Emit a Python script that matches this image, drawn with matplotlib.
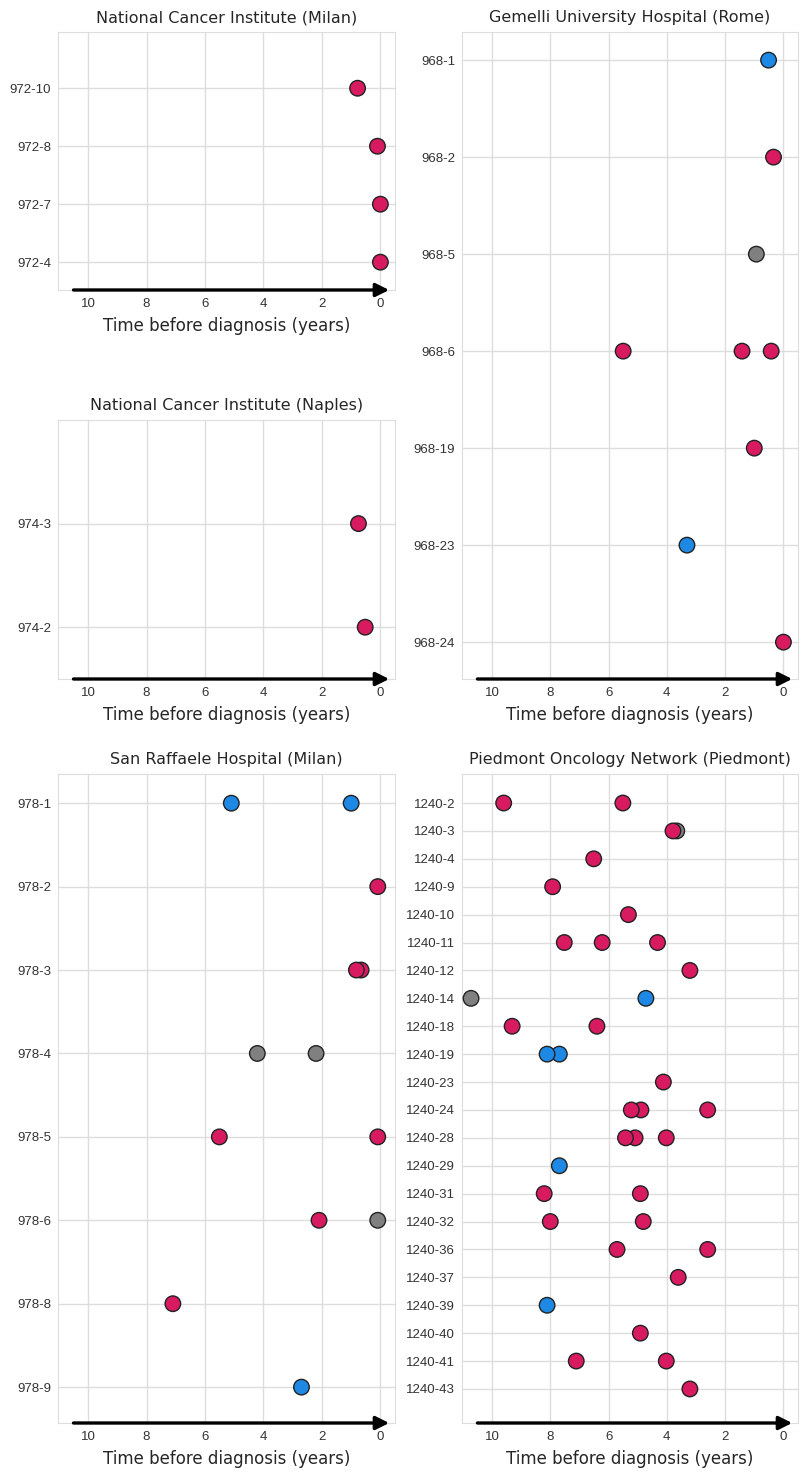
import numpy as np
import matplotlib.pyplot as plt
import seaborn as sns

sns.set_style("whitegrid")
plt.rcParams['font.family'] = ['DejaVu Sans']

# sample points: sample id, years before diagnosis, sample kind (r / b / g)
milan_sample = ['972-10', '972-8', '972-7', '972-4']
milan_time = [0.78, 0.10, 0.0, 0.0]
milan_kind = ['r', 'r', 'r', 'r']

naples_sample = ['974-3', '974-2']
naples_time = [0.75, 0.52]
naples_kind = ['r', 'r']

rome_sample = ['968-1', '968-2', '968-5', '968-6', '968-6', '968-6',
               '968-19', '968-23', '968-24']
rome_time = [0.51, 0.34, 0.93, 5.50, 1.42, 0.42, 1.00, 3.31, 0.0]
rome_kind = ['b', 'r', 'g', 'r', 'r', 'r', 'r', 'b', 'r']

raffaele_sample = ['978-1', '978-1', '978-2', '978-3', '978-3', '978-4', '978-4',
                   '978-5', '978-5', '978-6', '978-6', '978-8', '978-9']
raffaele_time = [5.10, 1.00, 0.09, 0.82, 0.66, 4.21, 2.20,
                 5.51, 0.09, 2.10, 0.09, 7.10, 2.70]
raffaele_kind = ['b', 'b', 'r', 'r', 'r', 'g', 'g',
                 'r', 'r', 'r', 'g', 'r', 'b']

piedmont_sample = ['1240-2', '1240-2', '1240-3', '1240-3', '1240-4', '1240-9',
                   '1240-10', '1240-11', '1240-11', '1240-11', '1240-12',
                   '1240-14', '1240-14', '1240-18', '1240-18', '1240-19', '1240-19',
                   '1240-23', '1240-24', '1240-24', '1240-24',
                   '1240-28', '1240-28', '1240-28', '1240-29',
                   '1240-31', '1240-31', '1240-32', '1240-32',
                   '1240-36', '1240-36', '1240-37', '1240-39', '1240-40',
                   '1240-41', '1240-41', '1240-43']
piedmont_time = [9.60, 5.51, 3.79, 3.66, 6.51, 7.92,
                 5.32, 7.52, 6.22, 4.32, 3.21,
                 10.72, 4.72, 9.31, 6.40, 8.11, 7.69,
                 4.12, 5.22, 4.89, 2.60,
                 5.42, 5.09, 4.02, 7.69,
                 8.21, 4.91, 8.00, 4.81,
                 5.71, 2.60, 3.61, 8.11, 4.91,
                 7.11, 4.02, 3.21]
piedmont_kind = ['r', 'r', 'r', 'g', 'r', 'r',
                 'r', 'r', 'r', 'r', 'r',
                 'g', 'b', 'r', 'r', 'b', 'b',
                 'r', 'r', 'r', 'r',
                 'r', 'r', 'r', 'b',
                 'r', 'r', 'r', 'r',
                 'r', 'r', 'r', 'b', 'r',
                 'r', 'r', 'r']

colors = {'r': '#D81B60', 'b': '#1E88E5', 'g': '#808080'}

W, H = 803, 1473
fig = plt.figure(figsize=(W / 100, H / 100), dpi=100)


def panel(box, title, sample, time, kind, pad):
    x0, y0, x1, y1 = box
    ax = fig.add_axes([x0 / W, 1 - y1 / H, (x1 - x0) / W, (y1 - y0) / H])
    rows = list(dict.fromkeys(sample))
    ypos = np.array([rows.index(s) for s in sample])
    t = np.array(time)
    c = [colors[k] for k in kind]
    order = np.argsort(t, kind='stable')
    ax.scatter(t[order], ypos[order], s=125, c=[c[i] for i in order],
               edgecolors='#222222', linewidths=1, zorder=3)
    ax.set_yticks(range(len(rows)))
    ax.set_yticklabels(rows, family=['Liberation Sans'], fontsize=9.5, color='#333333')
    ax.set_ylim(len(rows) - 1 + pad[1], -pad[0])
    ax.set_xlim(11.03, -0.5)
    ax.set_xticks([10, 8, 6, 4, 2, 0])
    ax.set_xticklabels(['10', '8', '6', '4', '2', '0'], family=['Liberation Sans'],
                       fontsize=9.5, color='#333333')
    ax.tick_params(axis='both', length=0)
    ax.tick_params(axis='y', pad=5)
    ax.tick_params(axis='x', pad=6)
    ax.grid(True, color='#dddddd', linewidth=1)
    for sp in ax.spines.values():
        sp.set_color('#dddddd')
    ax.set_title(title, fontsize=11.5, pad=7)
    ax.set_xlabel('Time before diagnosis (years)', fontsize=12, labelpad=5)
    ax.annotate('', xy=(-0.3, 0), xytext=(10.5, 0),
                xycoords=('data', 'axes fraction'),
                arrowprops=dict(arrowstyle='-|>', lw=2.4, color='black',
                                mutation_scale=20, shrinkA=0, shrinkB=0),
                annotation_clip=False, zorder=5)
    return ax


panel((58, 32, 395, 290), 'National Cancer Institute (Milan)',
      milan_sample, milan_time, milan_kind, (0.97, 0.48))
panel((58, 420, 395, 679), 'National Cancer Institute (Naples)',
      naples_sample, naples_time, naples_kind, (1.0, 0.5))
panel((462, 32, 798, 679), 'Gemelli University Hospital (Rome)',
      rome_sample, rome_time, rome_kind, (0.29, 0.38))
panel((58, 774, 395, 1423), 'San Raffaele Hospital (Milan)',
      raffaele_sample, raffaele_time, raffaele_kind, (0.35, 0.43))
panel((462, 774, 798, 1423), 'Piedmont Oncology Network (Piedmont)',
      piedmont_sample, piedmont_time, piedmont_kind, (1.04, 1.22))

fig.savefig('out.png', dpi=100)
